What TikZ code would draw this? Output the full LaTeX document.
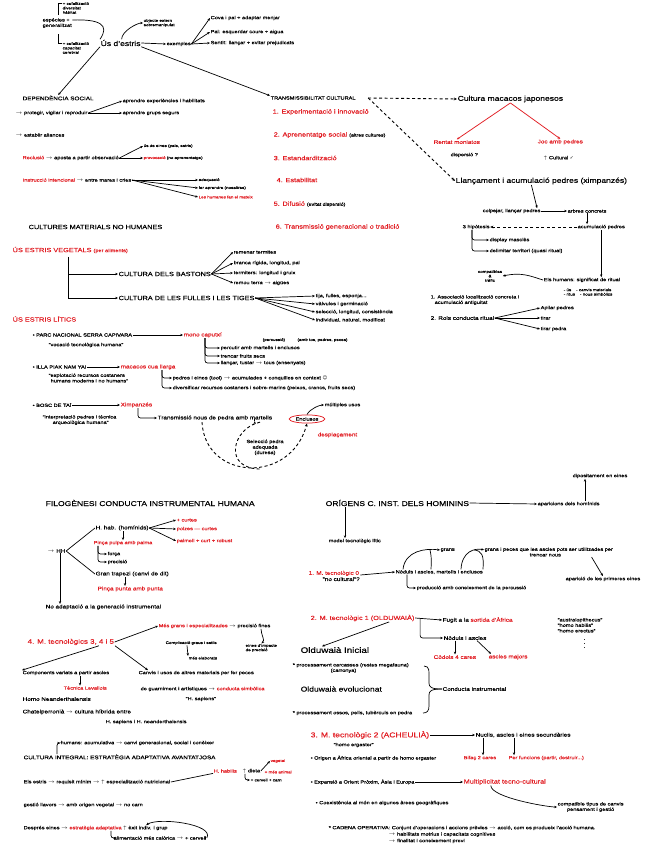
\documentclass[tikz,border=0pt]{standalone}
\usepackage{fontspec}
\setmainfont{Liberation Sans}[FakeStretch=1.22,FakeBold=0.35]
\newfontfamily\djv{DejaVu Sans}
\usetikzlibrary{arrows.meta,shapes.geometric,calc}
\definecolor{rd}{RGB}{226,30,36}
\newcommand{\rdt}[1]{\textcolor{rd}{#1}}
\newcommand{\myra}{$\rightarrow$}
\newcommand{\myup}{$\uparrow$}
\begin{document}
\begin{tikzpicture}[x=1pt,y=-1pt,
  every node/.style={inner sep=0.5pt,anchor=west},
  xs/.style={font=\fontsize{3.7}{4.4}\selectfont},
  ti/.style={font=\fontsize{4.6}{5.5}\selectfont},
  sm/.style={font=\fontsize{5.2}{6.2}\selectfont},
  md/.style={font=\fontsize{6}{7}\selectfont},
  lg/.style={font=\fontsize{7}{8}\selectfont},
  xl/.style={font=\fontsize{8}{9}\selectfont},
  rt/.style={text=rd},
  ln/.style={line width=0.7pt},
  ar/.style={ln,-{Stealth[length=2.8pt,width=2.4pt]}},
  rar/.style={ar,draw=rd,line width=0.75pt},
  da/.style={line width=0.9pt,dash pattern=on 3pt off 2.5pt,-{Stealth[length=3.2pt,width=2.8pt]}},
  hk/.style={ar,rounded corners=2.5pt},
]
\fill[white] (0,0) rectangle (656,848);
\useasboundingbox (0,0) rectangle (656,848);

%% ---------- top: Us d'estris
\node[lg] (us) at (100,43) {Ús d'estris};
\node[ti,align=left] (esp) at (42,23) {espècies +\\generalitzat};
\node[xs,align=left] (espa) at (62,8) {+ cefalització\\diversitat\\hàbitat};
\node[xs,align=left] (espb) at (62,48) {+ cefalització\\capacitat\\cerebral};
\draw[ln] ($(espa.north west)+(0,2)$) -- ++(-4,0) -- ++(0,11);
\draw[ln] ($(espb.north west)+(0,2)$) -- ++(-4,0) -- ++(0,-10);
\draw[ln] ($(esp.east)+(0,-3)$) .. controls (100,19) and (110,25) .. (us.north west);
\node[xs,align=left] (obj) at (143,23) {objecte extern\\sobremanipulat};
\draw[ar] (us.75) .. controls ($(us.75)+(0,-8)$) and ($(obj.west)+(-6,0)$) .. (obj.west);
\node[ti] (ex) at (166,44) {exemples};
\draw[ar] (us.east) -- (ex.west);
\node[ti] (ex1) at (210,18) {Cova i pal + adaptar menjar};
\node[ti] (ex2) at (210,32) {Pal: esquerdar coure + aigua};
\node[ti] (ex3) at (210,43) {Sentit: llançar + evitar prejudicats};
\foreach \k in {ex1,ex2,ex3} \draw[ar] (ex.east) -- (\k.west);

\node[sm] (dep) at (22,98) {DEPENDÈNCIA SOCIAL};
\node[ti] (trans) at (270,98) {TRANSMISSIBILITAT CULTURAL};
\draw[ar] (us.south west) -- (dep.north);
\draw[ar] (us.south east) -- (trans.north west);

%% ---------- dependencia social
\node[ti] (d1) at (15,113) {\myra\ protegir, vigilar i reproduir};
\node[ti] (d1a) at (122,101) {aprendre experiències i habilitats};
\node[ti] (d1b) at (122,113) {aprendre grups segurs};
\draw[ar] (d1.east) -- (d1a.west);
\draw[ar] (d1.east) -- (d1b.west);
\node[ti] (d2) at (15,135) {\myra\ establir aliances};
\node[ti] (d3) at (22,158) {\rdt{Reclusió} \myra\ aposta a partir observació};
\node[xs] (d3a) at (143,146) {ús de eines (pals, estris)};
\node[xs] (d3b) at (143,158) {\rdt{provocació} (no aprenentatge)};
\draw[ar] (d3.east) -- (d3a.west);
\draw[ar] (d3.east) -- (d3b.west);
\node[ti] (d4) at (22,180) {\rdt{Instrucció intencional} \myra\ entre mares i cries};
\node[xs] (d4a) at (198,180) {adequació};
\node[xs] (d4b) at (198,188) {fer aprendre (nosaltres)};
\node[xs,rt] (d4c) at (198,197) {Les humanes fan el mateix};
\foreach \k in {d4a,d4b,d4c} \draw[ar] (d4.east) -- (\k.west);
\node[md] (cmh) at (28,227) {CULTURES MATERIALS NO HUMANES};

%% ---------- transmissibilitat cultural
\node[md,rt] (t1) at (272,112) {1. Experimentació i innovació};
\node[md] (t2) at (273,135) {\rdt{2. Aprenentatge social} {\fontsize{4.3}{5}\selectfont (altres cultures)}};
\node[md,rt] (t3) at (273,158) {3. Estandardització};
\node[md,rt] (t4) at (276,180) {4. Estabilitat};
\node[md] (t5) at (273,204) {\rdt{5. Difusió} {\fontsize{4.3}{5}\selectfont (evitat dispersió)}};
\node[md,rt] (t6) at (275,227) {6. Transmissió generacional o tradició};

\coordinate (ds) at ($(trans.east)+(12,0)$);
\node[lg] (mac) at (457,99) {Cultura macacos japonesos};
\draw[da] (ds) -- (mac.west);
\node[sm,rt] (rm) at (433,142) {Rentat moniatos};
\node[sm,rt] (jp) at (537,142) {Joc amb pedres};
\draw[rar] (mac.south) -- (rm.north);
\draw[rar] (mac.south) -- (jp.north);
\node[ti] (rm2) at (450,155) {dispersió ?};
\node[ti] (jp2) at (543,158) {\myup\ Cultural {\djv ✓}};

\node[lg] (ll) at (455,181) {Llançament i acumulació pedres (ximpanzés)};
\draw[da] (ds) -- (ll.west);
\node[ti] (cl) at (482,211) {colpejar, llançar pedres};
\node[ti] (arb) at (567,211) {arbres concrets};
\draw[ar] (cl.east) -- (arb.west);
\draw[ar] ($(ll.south)+(-10,0)$) -- ($(cl.north east)+(-4,0)$);
\node[ti] (acp) at (577,227) {acumulació pedres};
\draw[ar] (arb.south) -- (arb.south |- acp.north);
\node[ti] (hip) at (462,227) {3 hipòtesis};
\draw[da] (acp.west) -- (hip.east);
\node[ti] (h1) at (489,240) {display masclès};
\node[ti] (h2) at (489,251) {delimitar territori (quasi ritual)};
\draw[hk] ($(hip.south west)+(10,0)$) |- (h1.west);
\draw[hk] ($(hip.south west)+(10,0)$) |- (h2.west);
\node[ti] (eh) at (543,280) {Els humans: significat de ritual};
\node[xs,align=left] (eh2) at (563,292) {- ús \quad - canvis materials\\- ritus \quad - nous simbòlics};
\draw[ar] (acp.south) -- (acp.south |- eh.north);
\node[xs,align=center,anchor=center] (comp) at (490,276) {compatibles\\\&\\tràfic};
\draw[ar] (eh.west) .. controls (530,276) and (522,272) .. (comp.east);
\node[ti,align=left] (h4) at (430,300) {1. Associació localització concreta i\\\hspace*{4pt}acumulació antiguitat};
\node[sm] (h3) at (430,318) {2. Rols conducta ritual};
\node[ti] (r1) at (540,308) {Apilar pedres};
\node[ti] (r2) at (540,318) {tirar};
\node[ti] (r3) at (540,329) {tirar pedra};
\foreach \k in {r1,r2,r3} \draw[ar] (h3.east) -- (\k.west);

%% ---------- estris vegetals
\node[md] (veg) at (12,250) {\rdt{ÚS ESTRIS VEGETALS} {\fontsize{4.6}{5}\selectfont\color{rd}(per aliments)}};
\coordinate (vb) at ($(veg.south west)+(56,3)$);
\node[md] (bas) at (118,274) {CULTURA DELS BASTONS};
\node[md] (fu) at (118,298) {CULTURA DE LES FULLES I LES TIGES};
\draw[ar,line width=1pt] (vb) |- (bas.west);
\draw[ar,line width=1pt] (vb) |- (fu.west);
\node[ti] (b1) at (233,252) {remenar termites};
\node[ti] (b2) at (233,263) {branca rígida, longitud, pal};
\node[ti] (b3) at (233,273) {termiters: longitud i gruix};
\node[ti] (b4) at (233,283) {remou terra \myra\ aigües};
\foreach \k in {b1,b2,b3,b4} \draw[ar] (bas.east) -- (\k.west);
\node[ti] (f1) at (315,296) {tija, fulles, esponja...};
\node[ti] (f2) at (315,304) {vàlvules i germinació};
\node[ti] (f3) at (315,312) {selecció, longitud, consistència};
\node[ti] (f4) at (315,320) {individual, natural, modificat};
\foreach \k in {f1,f2,f3,f4} \draw[ar] (fu.east) -- (\k.west);

%% ---------- estris litics
\node[md,rt] (lit) at (12,319) {ÚS ESTRIS LÍTICS};
\node[ti] (p1) at (32,335) {• PARC NACIONAL SERRA CAPIVARA};
\node[ti] (p1q) at (48,345) {"vocació tecnològica humana"};
\node[sm,rt] (mc) at (183,335) {mono caputxí};
\draw[ar] (p1.east) -- (mc.west);
\node[xs] (mc1) at (262,340) {(percussió) \hspace{10pt} (amb tos, pedres, peces)};
\node[ti] (mc2) at (220,348) {percutir amb martells i enclusos};
\node[ti] (mc3) at (220,356) {trencar fruits secs};
\node[ti] (mc4) at (220,363) {llançar, tustar \myra\ tous (ensenyats)};
\foreach \k in {mc2,mc3,mc4} \draw[hk] ($(mc.south west)+(22,0)$) |- (\k.west);

\node[ti] (p2) at (32,367) {• ILLA PIAK NAM YAI};
\node[ti,align=left] (p2q) at (48,378) {"explotació recursos costaners\\\hspace*{2pt}humans moderns i no humans"};
\node[sm,rt] (mcl) at (120,367) {macacos cua llarga};
\draw[ar] (p2.east) -- (mcl.west);
\node[ti] (l1) at (172,378) {pedres i eines (tool) \myra\ acumulades + conquilles en context {\djv ☺}};
\node[ti] (l2) at (172,388) {diversificar recursos costaners i sobre-marins (peixos, crancs, fruits secs)};
\foreach \k in {l1,l2} \draw[hk] ($(mcl.south west)+(42,0)$) |- (\k.west);

\node[ti] (p3) at (32,405) {• BOSC DE TAÏ};
\node[ti,align=left] (p3q) at (42,420) {"interpretació pedres i tècnica\\\hspace*{10pt}arqueològica humana"};
\node[sm,rt] (chi) at (120,405) {Ximpanzés};
\draw[ar] (p3.east) -- (chi.west);
\node[sm] (tr) at (157,418) {Transmissió nous de pedra amb martells};
\draw[hk] ($(chi.south west)+(18,0)$) |- (tr.west);
\node[ti,draw=rd,ellipse,inner sep=1.2pt,anchor=center,line width=0.75pt] (enc) at (307,419) {Enclusos};
\node[ti] (mu) at (324,405) {múltiples usos};
\draw[ar] (enc.north) .. controls ($(enc.north)+(3,-6)$) and ($(mu.west)+(-4,0)$) .. (mu.west);
\node[sm,rt] (des) at (317,435) {desplaçament};
\node[ti,align=center,anchor=north] (sel) at (265,439) {Selecció pedra\\adequada\\(duresa)};
\draw[ar] ($(tr.south east)+(-18,0)$) -- ($(tr.south east)+(-18,0)$ |- sel.north);
\draw[da] ($(tr.south west)+(45,1)$) .. controls (205,480) and (290,485) .. (enc.south);
\draw[line width=0.9pt,dash pattern=on 3pt off 2.5pt] ($(tr.south west)+(103,1)$) .. controls (232,428) and (222,470) .. (262,469);

%% ---------- filogenesi
\node[lg] (fil) at (45,503) {FILOGÈNESI CONDUCTA INSTRUMENTAL HUMANA};
\node[sm] (hh) at (47,551) {\myra\ HH};
\node[sm] (hab) at (95,528) {H. hab. (homínids)};
\node[sm] (gt) at (95,574) {Gran trapezi (canvi de dit)};
\draw[ln] (hh.east) -- (hab.west);
\draw[ln] (hh.east) -- (gt.west);
\node[ti,rt] (c1) at (176,520) {+ curtes};
\node[ti,rt] (c2) at (176,529) {polzes — curtes};
\node[ti,rt] (c3) at (176,541) {palmell + curt + robust};
\foreach \k in {c1,c2,c3} \draw[ar] (hab.east) -- (\k.west);
\node[ti,rt] (pp) at (93,543) {Pinça pulpa amb palma};
\draw[ar] ($(hab.south west)+(28,0)$) -- ($(pp.north west)+(30,0)$);
\node[ti] (g1) at (107,554) {força};
\node[ti] (g2) at (107,562) {precisió};
\draw[hk] ($(pp.south west)+(5,0)$) |- (g1.west);
\draw[hk] ($(pp.south west)+(5,0)$) |- (g2.west);
\node[sm,rt] (ppp) at (97,589) {Pinça punta amb punta};
\draw[ar] ($(gt.south west)+(30,0)$) -- ($(ppp.north west)+(28,0)$);
\node[sm] (na) at (45,607) {No adaptació a la generació instrumental};
\draw[ar] ($(hh.south west)+(13,0)$) -- ($(na.north west)+(15,0)$);

%% ---------- origens
\node[lg] (ori) at (325,503) {ORÍGENS C. INST. DELS HOMININS};
\node[ti] (apa) at (537,504) {aparicions dels homínids};
\draw[ar] (ori.east) -- (apa.west);
\node[ti] (dip) at (572,476) {dipositament en eines};
\draw[ar] ($(apa.north west)+(48,0)$) -- ($(dip.south west)+(13,0)$);
\node[ti] (mod) at (328,541) {model tecnològic lític};
\draw[ar] ($(ori.south west)+(20,0)$) -- ($(mod.north west)+(17,0)$);
\node[sm,align=left] (m0) at (308,576) {\rdt{1. M. tecnològic 0}\\\hspace*{14pt}"no cultural"?};
\node[ti] (tal) at (395,572) {Nòduls i ascles, martells i enclusos};
\draw[ar] ($(m0.east)+(0,-1)$) -- (tal.west);
\node[ti] (gr1) at (440,550) {grans};
\node[ti,align=left] (gr2) at (484,552) {grans i peces que les ascles pots ser utilitzades per\\\hspace*{45pt}trencar nous};
\draw[ar] ($(tal.north west)+(8,0)$) .. controls (405,551) and (425,548) .. (gr1.west);
\draw[ln] ($(tal.north west)+(36,0)$) .. controls (432,555) and (430,551) .. ($(gr1.west)+(-10,0)$);
\draw[ar] ($(tal.north west)+(66,0)$) .. controls (462,551) and (475,548) .. ($(gr2.north west)+(0,3)$);
\draw[ln] ($(tal.north west)+(88,0)$) .. controls (484,555) and (482,551) .. ($(gr2.north west)+(-10,3)$);
\node[ti] (app) at (565,579) {aparició de les primeres eines};
\draw[ar] ($(gr2.south east)+(-22,0)$) -- ($(app.north east)+(-38,0)$);
\node[ti] (prod) at (416,588) {producció amb coneixement de la percussió};
\draw[hk] ($(tal.south west)+(12,0)$) |- (prod.west);

%% ---------- models 3,4,5
\node[font=\fontsize{6.5}{7.5}\selectfont,rt] (m345) at (27,642) {4. M. tecnològics 3, 4 i 5};
\node[ti] (mg) at (158,626) {\rdt{Més grans i especialitzades} \myra\ precisió fines};
\draw[ar] (m345.east) -- (mg.west);
\node[xs] (cx) at (165,643) {Complicació graus i estils};
\node[xs] (cx2) at (188,658) {més elaborats};
\draw[ar] ($(cx.south west)+(22,0)$) -- ($(cx2.north west)+(0,0)$);
\node[xs,align=left] (cx3) at (245,648) {eines d'impacte\\de precisió};
\draw[ar] ($(mg.south east)+(-10,0)$) .. controls +(0,6) and +(4,-3) .. (cx3.north);
\node[ti] (cv) at (22,673) {Components variats a partir ascles};
\draw[ar] ($(m345.south west)+(72,0)$) -- (cv.north west);
\node[ti,rt] (lev) at (63,688) {Tècnica Levallois};
\draw[ar] ($(cv.south west)+(58,0)$) -- ($(lev.north west)+(17,0)$);
\node[sm] (hn) at (22,699) {Homo Neanderthalensis};
\node[sm] (chat) at (22,712) {Chatelperronià \myra\ cultura híbrida entre};
\node[ti] (hsn) at (105,722) {H. sapiens i H. neanderthalensis};
\node[ti] (can) at (138,673) {Canvis i usos de altres materials per fer peces};
\draw[ar] ($(m345.south west)+(88,0)$) -- ($(can.north west)+(10,0)$);
\node[ti] (gua) at (140,689) {de guarniment i artístiques \myra\ \rdt{conducta simbòlica}};
\node[ti] (hs) at (185,699) {"H. sapiens"};

%% ---------- olduwaia
\node[md,rt] (m1) at (310,618) {2. M. tecnològic 1 (OLDUWAIÀ)};
\node[xl] (oi) at (300,650) {Olduwaià Inicial};
\draw[ar] ($(m1.south east)+(-26,0)$) -- ($(oi.north west)+(22,0)$);
\node[sm] (fug) at (442,620) {Fugit a la \rdt{sortida d'Àfrica}};
\node[sm] (nod) at (443,638) {Nòduls i ascles};
\draw[ar] (m1.east) -- (fug.west);
\draw[hk] ($(m1.east)+(5,0)$) |- (nod.west);
\node[sm,rt] (c4) at (433,657) {Còdols 4 cares};
\node[sm,rt] (am) at (488,657) {ascles majors};
\draw[ar] ($(nod.south west)+(12,0)$) -- ($(c4.north west)+(22,0)$);
\draw[ar] ($(nod.south east)+(-10,0)$) -- ($(am.north west)+(3,0)$);
\node[ti,align=left] (sp) at (557,633) {"australopithecus"\\"homo habilis"\\"homo erectus"\\\hspace*{26pt}$\vdots$};
\node[ti,align=left] (pc) at (292,668) {* processament carcasses (restes megafauna)\\\hspace*{38pt}(carronya)};
\node[lg] (oe) at (300,689) {Olduwaià evolucionat};
\node[ti] (po) at (292,713) {* processament ossos, pells, tubèrculs en pedra};
\node[sm] (ci) at (442,689) {Conducta instrumental};
\draw[ln] (424,666) .. controls (430,666) and (429,672) .. (429,678) -- (429,683) .. controls (429,687) and (431,689) .. (ci.west);
\draw[ln] (ci.west) .. controls (431,689) and (429,691) .. (429,695) -- (429,706) .. controls (429,711) and (427,713) .. (423,713);

%% ---------- acheulia
\node[lg,rt] (m2) at (310,735) {3. M. tecnològic 2 (ACHEULIÀ)};
\node[ti] (he) at (333,745) {"homo ergaster"};
\node[sm] (nu) at (475,735) {Nuclis, ascles i eines secundàries};
\draw[ar] (m2.east) -- (nu.west);
\node[ti] (or) at (310,758) {• Origen a Àfrica oriental a partir de homo ergaster};
\node[ti,rt] (bif) at (463,758) {Bifaç 2 cares};
\node[ti] (pf) at (508,758) {\rdt{Per funcions} \rdt{(partir, destruir...)}};
\draw[ar] ($(nu.south west)+(8,0)$) -- ($(bif.north west)+(20,0)$);
\draw[ar] ($(nu.south west)+(39,0)$) -- ($(pf.north west)+(6,0)$);
\node[ti] (exp) at (310,782) {• Expansió a Orient Pròxim, Àsia i Europa};
\node[md,rt] (mt) at (463,782) {Multiplicitat tecno-cultural};
\draw[ar] (exp.east) -- (mt.west);
\node[ti] (co) at (315,803) {• Coexistència al món en algunes àrees geogràfiques};
\node[ti,align=center] (ct) at (557,807) {compatible tipus de canvis\\pensament i gestió};
\draw[ar] ($(mt.south)+(-14,0)$) .. controls +(0,12) and +(-10,0) .. (ct.west);
\node[ti] (cad) at (328,828) {* CADENA OPERATIVA: Conjunt d'operacions i accions prèvies \myra\ acció, com es produeix l'acció humana.};
\node[ti] (cad2) at (388,834.5) {\myra\ habilitats motrius i capacitats cognitives};
\node[ti] (cad3) at (388,841) {\myra\ finalitat i coneixement previ};

%% ---------- cultura integral
\node[sm] (ci2) at (23,757) {CULTURA INTEGRAL: ESTRATÈGIA ADAPTATIVA AVANTATJOSA};
\node[ti] (hum) at (60,743) {humans: acumulativa \myra\ canvi generacional, social i conèixer};
\draw[hk] ($(ci2.north west)+(34,0)$) |- (hum.west);
\node[ti] (ee) at (23,782) {Els estris \myra\ requisit mínim \myra\ \myup\ especialització nutricional};
\node[ti,rt] (hab2) at (213,771) {H. habilis};
\node[ti] (di) at (242,771) {\myup\ dieta};
\node[xs,rt] (veg2) at (270,761) {vegetal};
\node[xs,rt] (ani) at (264,772) {+ més animal};
\node[xs] (cer) at (250,780) {+ cervell + carn};
\draw[ln] (ee.east) -- (hab2.south west);
\draw[ar] (di.east) -- (veg2.west);
\draw[hk] ($(di.south west)+(3,0)$) |- (cer.west);
\node[ti] (ge) at (23,805) {gestió llavors \myra\ amb origen vegetal \myra\ no carn};
\node[ti] (de) at (23,828) {Després eines \myra\ \rdt{estratègia adaptativa} \myup\ èxit indiv. i grup};
\node[ti] (de2) at (113,838) {alimentació més calòrica \myra\ + cervell};
\draw[hk] ($(de.south west)+(88,0)$) |- (de2.west);
\draw[ar] (de2.east) .. controls +(8,-14) and +(12,-8) .. ($(de.north east)+(-22,0)$);
\end{tikzpicture}
\end{document}
